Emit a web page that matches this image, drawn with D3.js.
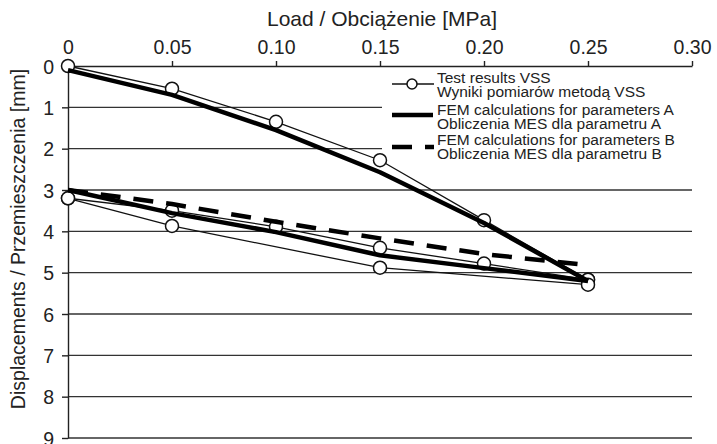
<!DOCTYPE html>
<html><head><meta charset="utf-8">
<script src="https://cdn.jsdelivr.net/npm/d3@7"></script>
<style>body{margin:0;background:#fff}svg{display:block}text{font-family:"Liberation Sans",Arial,sans-serif;fill:#222}</style>
</head><body>
<svg id="c" width="717" height="444"></svg>
<script>
const xTicks = [0, 0.05, 0.10, 0.15, 0.20, 0.25, 0.30];
const xTickLabels = ["0", "0.05", "0.10", "0.15", "0.20", "0.25", "0.30"];
const yTicks = [0, 1, 2, 3, 4, 5, 6, 7, 8, 9];

// Test results VSS (three branches)
const vssLoad1 = [0, 0.05, 0.10, 0.15, 0.20, 0.25];
const vssDisp1 = [0, 0.55, 1.35, 2.28, 3.73, 5.17];
const vssLoad2 = [0, 0.05, 0.10, 0.15, 0.20, 0.25];
const vssDisp2 = [3.2, 3.5, 3.89, 4.40, 4.78, 5.17];
const vssLoad3 = [0, 0.05, 0.15, 0.25];
const vssDisp3 = [3.2, 3.87, 4.88, 5.29];

// FEM parameters A (two branches)
const femALoad = [0, 0.05, 0.10, 0.15, 0.20, 0.25];
const femADisp1 = [0.1, 0.70, 1.55, 2.57, 3.80, 5.2];
const femADisp2 = [3.0, 3.56, 4.02, 4.58, 4.89, 5.2];

// FEM parameters B
const femBLoad = [0, 0.05, 0.10, 0.15, 0.20, 0.25];
const femBDisp = [3.0, 3.34, 3.77, 4.17, 4.55, 4.82];

const legendLines = [
  ["Test results VSS", "Wyniki pomiarów metodą VSS"],
  ["FEM calculations for parameters A", "Obliczenia MES dla parametru A"],
  ["FEM calculations for parameters B", "Obliczenia MES dla parametru B"]
];

const svg = d3.select("#c");
const x = d3.scaleLinear().domain([0, 0.3]).range([68, 692]);
const y = d3.scaleLinear().domain([0, 9]).range([66, 438]);

// grid
svg.append("g").selectAll("line").data(yTicks.slice(1)).join("line")
  .attr("x1", x(0)).attr("x2", x(0.3))
  .attr("y1", d => y(d)).attr("y2", d => y(d))
  .attr("stroke", "#333").attr("stroke-width", 1.4);

// top axis
const gx = svg.append("g").attr("transform", `translate(0,${y(0)})`)
  .call(d3.axisTop(x).tickValues(xTicks).tickFormat((d, i) => xTickLabels[i]).tickSizeInner(5).tickSizeOuter(0).tickPadding(7));
gx.select(".domain").attr("stroke", "#222").attr("stroke-width", 1.4);
gx.selectAll(".tick line").attr("stroke", "#222").attr("stroke-width", 1.4);
gx.selectAll("text").style("font-size", "19.5px").attr("fill", "#222");

// left axis
const gy = svg.append("g").attr("transform", `translate(${x(0)},0)`)
  .call(d3.axisLeft(y).tickValues(yTicks).tickFormat(d3.format("d")).tickSizeInner(6).tickSizeOuter(0).tickPadding(8));
gy.select(".domain").attr("stroke", "#222").attr("stroke-width", 1.4);
gy.selectAll(".tick line").attr("stroke", "#222").attr("stroke-width", 1.4);
gy.selectAll("text").style("font-size", "19.5px").attr("fill", "#222").attr("dy", "0.36em");

// titles
svg.append("text").attr("x", 382).attr("y", 26).attr("text-anchor", "middle")
  .style("font-size", "21px").text("Load / Obciążenie [MPa]");
svg.append("text").attr("transform", "translate(25,239) rotate(-90)").attr("text-anchor", "middle")
  .style("font-size", "19.5px").text("Displacements / Przemieszczenia [mm]");

// legend background
svg.append("rect").attr("x", 382).attr("y", 70).attr("width", 310).attr("height", 92).attr("fill", "#fff");

const line = d3.line().x(d => x(d[0])).y(d => y(d[1]));
const zip = (a, b) => a.map((v, i) => [v, b[i]]);

const vssSets = [zip(vssLoad1, vssDisp1), zip(vssLoad2, vssDisp2), zip(vssLoad3, vssDisp3)];
vssSets.forEach(s => {
  svg.append("path").attr("d", line(s)).attr("fill", "none").attr("stroke", "#111").attr("stroke-width", 1.3);
});
vssSets.forEach(s => {
  svg.append("g").selectAll("circle").data(s).join("circle")
    .attr("cx", d => x(d[0])).attr("cy", d => y(d[1])).attr("r", 6.5)
    .attr("fill", "#fff").attr("stroke", "#111").attr("stroke-width", 1.5);
});

[zip(femALoad, femADisp1), zip(femALoad, femADisp2)].forEach(s => {
  svg.append("path").attr("d", line(s)).attr("fill", "none").attr("stroke", "#000").attr("stroke-width", 4.5).attr("stroke-linejoin", "round");
});
svg.append("path").attr("d", line(zip(femBLoad, femBDisp))).attr("fill", "none")
  .attr("stroke", "#000").attr("stroke-width", 4.5).attr("stroke-dasharray", "20,13");

// legend
const lg = svg.append("g");
const symY = [84, 115, 147];
const textY = [83, 115, 145];
lg.append("line").attr("x1", 392).attr("x2", 434).attr("y1", symY[0]).attr("y2", symY[0]).attr("stroke", "#111").attr("stroke-width", 1.3);
lg.append("circle").attr("cx", 412).attr("cy", symY[0]).attr("r", 5).attr("fill", "#fff").attr("stroke", "#111").attr("stroke-width", 1.5);
lg.append("line").attr("x1", 392).attr("x2", 433).attr("y1", symY[1]).attr("y2", symY[1]).attr("stroke", "#000").attr("stroke-width", 4.5);
lg.append("line").attr("x1", 392).attr("x2", 434).attr("y1", symY[2]).attr("y2", symY[2]).attr("stroke", "#000").attr("stroke-width", 4.5).attr("stroke-dasharray", "20,13");
legendLines.forEach((pair, i) => {
  const t = lg.append("text").attr("x", 437).attr("y", textY[i]).style("font-size", "15.5px");
  pair.forEach((s, j) => {
    t.append("tspan").attr("x", 437).attr("dy", j === 0 ? 0 : 13.5).text(s);
  });
});
</script>
</body></html>
